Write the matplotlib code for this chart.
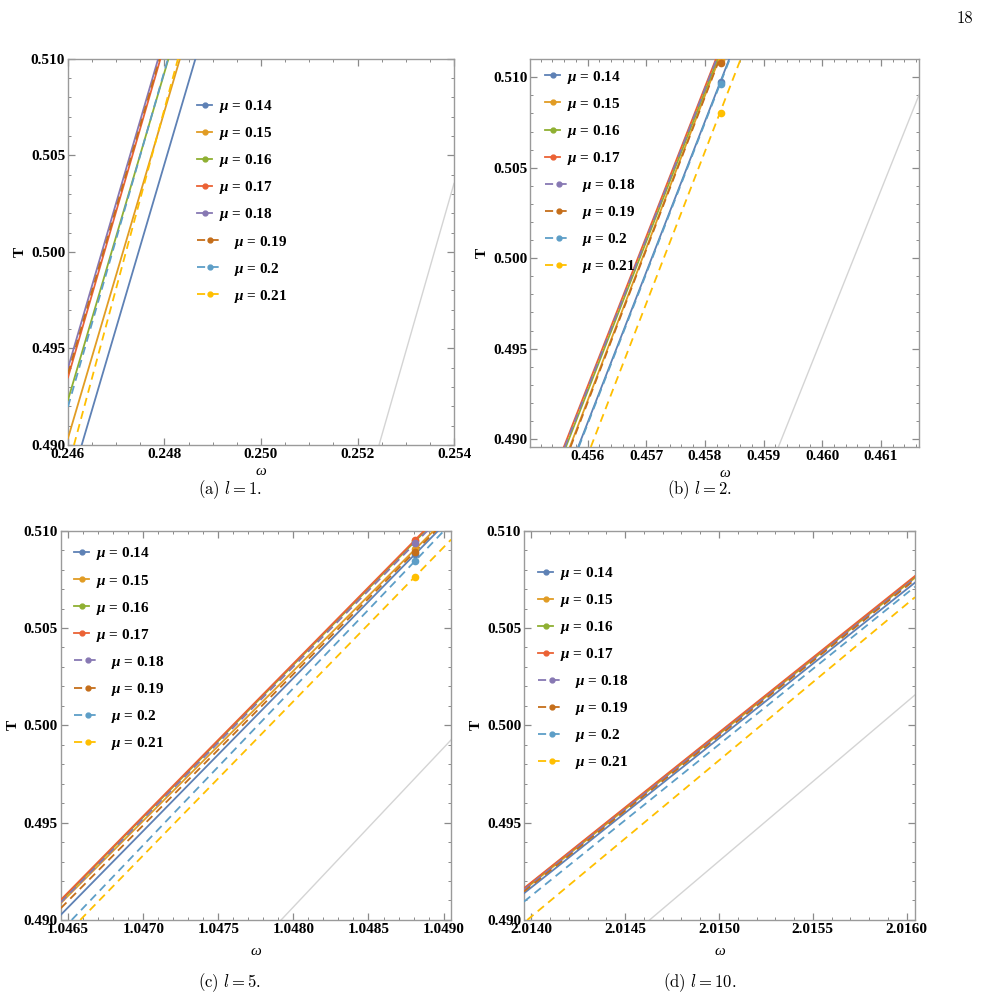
import numpy as np
import matplotlib
matplotlib.use('Agg')
import matplotlib.pyplot as plt
from matplotlib.lines import Line2D
from matplotlib.legend_handler import HandlerLine2D
from matplotlib.ticker import MultipleLocator, FormatStrFormatter

plt.rcParams['mathtext.fontset'] = 'custom'
plt.rcParams['mathtext.it'] = 'Liberation Serif:italic:bold'
plt.rcParams['mathtext.rm'] = 'Liberation Serif:bold'

# ---------------------------------------------------------------
# data: every curve is (nearly) straight in the zoomed window, so
# two points read off the picture are stored for each of them
# ---------------------------------------------------------------
MU = ['0.14', '0.15', '0.16', '0.17', '0.18', '0.19', '0.2', '0.21']
COLORS = ['#5E81B5', '#E19C24', '#8FB032', '#EB6235',
          '#8778B3', '#C56E1A', '#5D9EC7', '#FFBF00']
GRAY = '#d4d4d4'

# (a) l = 1
A_W1 = [0.246284, 0.246, 0.246, 0.246, 0.246, 0.246, 0.246, 0.246124]
A_T1 = [0.490, 0.49035, 0.49233, 0.4935, 0.49398, 0.4937, 0.49198, 0.490]
A_W2 = [0.248642, 0.248321, 0.248083, 0.247917, 0.24787, 0.24790, 0.248073, 0.24828]
A_T2 = [0.510] * 8
A_GRAY = [(0.252446, 0.490), (0.254, 0.50354)]

# (b) l = 2
B_W1 = [0.455840, 0.455698, 0.455630, 0.455596, 0.455610, 0.455710, 0.455850, 0.456056]
B_T1 = [0.48956] * 8
B_W2 = [0.458416, 0.458241, 0.458218, 0.458189, 0.458200, 0.458250, 0.458425, 0.458611]
B_T2 = [0.51101] * 8
B_MARK_W = 0.45827
B_MARK_T = [0.50975, 0.51096, 0.5113, 0.5116, 0.5115, 0.51077, 0.50962, 0.50801]
B_GRAY = [(0.459253, 0.48956), (0.46165, 0.50902)]

# (c) l = 5
C_W1 = [1.04645, 1.04645, 1.04645, 1.04645, 1.04645, 1.04645, 1.046523, 1.04658]
C_T1 = [0.49026, 0.49086, 0.49098, 0.49103, 0.49090, 0.49060, 0.490, 0.490]
C_MARK_W = 1.04881
C_MARK_T = [0.50879, 0.50904, 0.50945, 0.50952, 0.50935, 0.50892, 0.50844, 0.50764]
C_GRAY = [(1.047918, 0.490), (1.04905, 0.49925)]

# (d) l = 10
D_W1 = [2.01396, 2.01396, 2.01396, 2.01396, 2.01396, 2.01396, 2.01396, 2.013989]
D_T1 = [0.49137, 0.49154, 0.49160, 0.49163, 0.49155, 0.49146, 0.49094, 0.49009]
D_W2 = [2.016045] * 8
D_T2 = [0.50733, 0.50758, 0.50762, 0.50767, 0.50755, 0.50748, 0.50712, 0.50658]
D_GRAY = [(2.01463, 0.490), (2.016045, 0.50156)]

DASH = (0, (4.5, 3))
SERIF = 'Liberation Serif'

fig = plt.figure(figsize=(9.81, 9.98), dpi=100)


class LongHandle(HandlerLine2D):
    """dashed legend entries get a longer sample line, like Mathematica"""
    def __init__(self, extra, **kw):
        super().__init__(**kw)
        self.extra = extra

    def create_artists(self, legend, orig_handle, xdescent, ydescent,
                       width, height, fontsize, trans):
        return super().create_artists(legend, orig_handle, xdescent, ydescent,
                                      width + self.extra, height, fontsize, trans)


def make_axes(rect, xlim, ylim, xmaj, xmin, ymin_step, xfmt, xpad):
    ax = fig.add_axes(rect)
    ax.set_xlim(*xlim)
    ax.set_ylim(*ylim)
    ax.xaxis.set_major_locator(MultipleLocator(xmaj))
    ax.xaxis.set_minor_locator(MultipleLocator(xmin))
    ax.yaxis.set_major_locator(MultipleLocator(0.005))
    ax.yaxis.set_minor_locator(MultipleLocator(ymin_step))
    ax.xaxis.set_major_formatter(FormatStrFormatter(xfmt))
    ax.yaxis.set_major_formatter(FormatStrFormatter('%.3f'))
    for s in ax.spines.values():
        s.set_color('#9a9a9a')
        s.set_linewidth(1.0)
    ax.tick_params(which='both', direction='in', top=True, right=True,
                   color='#8a8a8a', labelsize=11)
    ax.tick_params(which='major', length=5, width=0.9, pad=2)
    ax.tick_params(which='minor', length=2.5, width=0.7)
    for lab in ax.get_xticklabels() + ax.get_yticklabels():
        lab.set_fontfamily(SERIF)
        lab.set_fontweight('bold')
    ax.set_xlabel('ω', fontfamily=SERIF, fontstyle='italic', fontsize=11, labelpad=xpad)
    ax.set_ylabel('T', fontfamily=SERIF, fontweight='bold', fontsize=11, labelpad=3)
    return ax


def draw_lines(ax, p1, p2, dashed_from, marks=None):
    for i in range(len(MU)):
        ls = DASH if i >= dashed_from else '-'
        ax.axline(p1[i], p2[i], color=COLORS[i], lw=1.3, ls=ls, zorder=3)
        if marks is not None:
            ax.plot([marks[0]], [marks[1][i]], 'o', color=COLORS[i], ms=4.5,
                    zorder=4, clip_on=True)


def add_legend(ax, dashed_from, anchor):
    handles, labels, hmap = [], [], {}
    for i in range(len(MU)):
        dashed = i >= dashed_from
        h = Line2D([0], [0], color=COLORS[i], lw=1.3,
                   ls=DASH if dashed else '-', marker='o', ms=3.5)
        handles.append(h)
        if dashed:
            hmap[h] = LongHandle(8.5)
            labels.append('    ' + r'$\mu$ = ' + MU[i])
        else:
            labels.append(r'$\mu$ = ' + MU[i])
    ax.legend(handles, labels, handler_map=hmap, loc='upper left',
              bbox_to_anchor=anchor, frameon=False, borderpad=0,
              borderaxespad=0, handlelength=1.0, handletextpad=0.45,
              labelspacing=0.66,
              prop={'family': SERIF, 'weight': 'bold', 'size': 11})


# (a)
ax = make_axes([0.0693, 0.5541, 0.3935, 0.3871], (0.246, 0.254), (0.490, 0.510),
               0.002, 0.0005, 0.001, '%.3f', 3.0)
draw_lines(ax, list(zip(A_W1, A_T1)), list(zip(A_W2, A_T2)), 5)
ax.axline(A_GRAY[0], A_GRAY[1], color=GRAY, lw=1.0, zorder=2)
add_legend(ax, 5, (0.334, 0.898))

# (b)
ax = make_axes([0.5403, 0.5521, 0.3965, 0.3888], (0.45502, 0.46165), (0.48956, 0.51101),
               0.001, 0.0002, 0.001, '%.3f', 3.0)
draw_lines(ax, list(zip(B_W1, B_T1)), list(zip(B_W2, B_T2)), 4,
           marks=(B_MARK_W, B_MARK_T))
ax.axline(B_GRAY[0], B_GRAY[1], color=GRAY, lw=1.0, zorder=2)
add_legend(ax, 4, (0.039, 0.975))

# (c)
ax = make_axes([0.0619, 0.0782, 0.3979, 0.3901], (1.04645, 1.04905), (0.490, 0.510),
               0.0005, 0.0001, 0.001, '%.4f', 6.5)
draw_lines(ax, list(zip(C_W1, C_T1)), [(C_MARK_W, t) for t in C_MARK_T], 4,
           marks=(C_MARK_W, C_MARK_T))
ax.axline(C_GRAY[0], C_GRAY[1], color=GRAY, lw=1.0, zorder=2)
add_legend(ax, 4, (0.034, 0.962))

# (d)
ax = make_axes([0.5341, 0.0782, 0.3986, 0.3901], (2.01396, 2.016045), (0.490, 0.510),
               0.0005, 0.0001, 0.001, '%.4f', 6.5)
draw_lines(ax, list(zip(D_W1, D_T1)), list(zip(D_W2, D_T2)), 4)
ax.axline(D_GRAY[0], D_GRAY[1], color=GRAY, lw=1.0, zorder=2)
add_legend(ax, 4, (0.036, 0.912))

# captions and page number
cap = dict(fontfamily='cmr10', math_fontfamily='cm', fontsize=12,
           ha='center', va='center')
fig.text(230 / 981, 1 - 490 / 998, r'(a) $l = 1$.', **cap)
fig.text(700 / 981, 1 - 490 / 998, r'(b) $l = 2$.', **cap)
fig.text(230 / 981, 1 - 983 / 998, r'(c) $l = 5$.', **cap)
fig.text(700 / 981, 1 - 983 / 998, r'(d) $l = 10$.', **cap)
fig.text(965 / 981, 1 - 18 / 998, '18', **cap)

fig.savefig('out.png', dpi=100, facecolor='white')
